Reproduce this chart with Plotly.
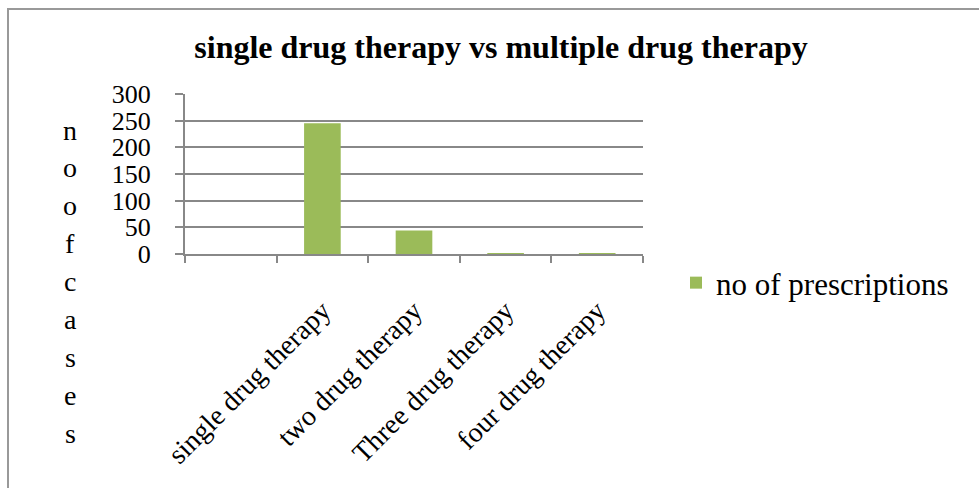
import plotly.graph_objects as go

categories = [" ", "single drug therapy", "two drug therapy", "Three drug therapy", "four drug therapy"]
prescriptions = [None, 245, 44, 1, 1]
series_name = "no of prescriptions"
title_text = "single drug therapy vs multiple drug therapy"
y_title_letters = list("noofcases")
y_ticks = [0, 50, 100, 150, 200, 250, 300]

W, H = 979, 488
L, R, T, B = 185, 643, 94, 254   # plot area in px
pw, ph = R - L, B - T

def px_x(x):
    return (x - L) / pw

def px_y(y):
    return (B - y) / ph

FONT = "Liberation Serif"
GRAY = "#888888"

fig = go.Figure()
fig.add_trace(go.Bar(
    x=categories, y=prescriptions, name=series_name,
    marker=dict(color="#9BBB59", line=dict(width=0)),
    showlegend=True,
))

annotations = []
for i, ch in enumerate(y_title_letters):
    annotations.append(dict(
        text=ch, x=px_x(70), y=px_y(130 + i * 37.9), xref="paper", yref="paper",
        showarrow=False, xanchor="center", yanchor="middle",
        font=dict(family=FONT, size=28, color="black"),
    ))

fig.update_layout(
    width=W, height=H,
    margin=dict(l=L, r=W - R, t=T, b=H - B, pad=0, autoexpand=False),
    paper_bgcolor="white", plot_bgcolor="white",
    bargap=0.6,
    title=dict(text="<b>" + title_text + "</b>", x=501 / W, y=1 - 47 / H,
               xref="container", yref="container",
               xanchor="center", yanchor="middle",
               font=dict(family=FONT, size=32, color="black"),
               automargin=False),
    font=dict(family=FONT, color="black"),
    xaxis=dict(
        type="category", tickangle=-45, tickson="boundaries",
        ticks="outside", ticklen=7, tickcolor=GRAY, tickwidth=2,
        showline=True, linecolor=GRAY, linewidth=2,
        showgrid=False, tickfont=dict(family=FONT, size=28, color="black"),
        ticklabelstandoff=27, automargin=False,
        fixedrange=True,
    ),
    yaxis=dict(
        range=[0, 300], tickvals=y_ticks, ticks="outside", ticklen=8,
        tickcolor=GRAY, tickwidth=2,
        showline=True, linecolor=GRAY, linewidth=2,
        showgrid=True, gridcolor=GRAY, gridwidth=2,
        zeroline=False, automargin=False,
        tickfont=dict(family=FONT, size=26, color="black"),
        ticklabelstandoff=19,
    ),
    legend=dict(x=px_x(676), y=px_y(283), xanchor="left", yanchor="middle",
                font=dict(family=FONT, size=31, color="black"),
                bgcolor="rgba(0,0,0,0)", itemwidth=30),
    annotations=annotations,
    shapes=[dict(type="rect", xref="paper", yref="paper",
                 x0=px_x(8), x1=px_x(990), y0=px_y(9), y1=px_y(495),
                 line=dict(color="#999999", width=2), layer="below")],
)

fig.write_html("out.html")
